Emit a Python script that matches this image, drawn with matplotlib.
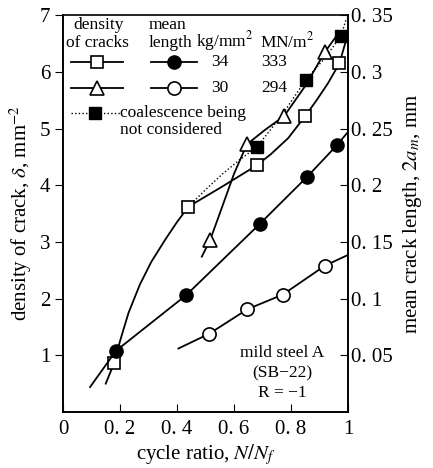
import numpy as np
import matplotlib
matplotlib.use("Agg")
import matplotlib.pyplot as plt

plt.rcParams["font.family"] = ["Liberation Serif", "DejaVu Serif"]
plt.rcParams["mathtext.fontset"] = "stix"

# density of cracks (left axis, mm^-2)
sq_x = [0.18, 0.44, 0.68, 0.85, 0.97]          # 34 kg/mm2
sq_y = [0.87, 3.62, 4.35, 5.22, 6.15]
tri_x = [0.516, 0.645, 0.776, 0.919]           # 30 kg/mm2
tri_y = [3.03, 4.72, 5.22, 6.35]
fsq_x = [0.68, 0.852, 0.975]                   # coalescence not considered
fsq_y = [4.67, 5.86, 6.63]

# mean crack length (right axis, mm)
fc_x = [0.186, 0.432, 0.691, 0.857, 0.962]     # 34 kg/mm2
fc_y = [0.054, 0.103, 0.166, 0.2075, 0.2355]
oc_x = [0.513, 0.647, 0.771, 0.919]            # 30 kg/mm2
oc_y = [0.069, 0.0906, 0.1035, 0.129]

# hand-drawn trend curves
sq_cx = [0.15, 0.18, 0.2, 0.23, 0.27, 0.31, 0.36, 0.4, 0.44, 0.56, 0.68,
         0.73, 0.79, 0.85, 0.89, 0.93, 0.97, 0.99]
sq_cy = [0.5, 0.87, 1.25, 1.75, 2.25, 2.65, 3.05, 3.35, 3.62, 3.98, 4.35,
         4.55, 4.83, 5.22, 5.5, 5.8, 6.15, 6.5]
tri_cx = [0.487, 0.516, 0.55, 0.6, 0.645, 0.71, 0.776, 0.85, 0.919, 0.955]
tri_cy = [2.74, 3.03, 3.5, 4.2, 4.72, 4.98, 5.22, 5.75, 6.35, 6.6]
fsq_cx = [0.44, 0.5, 0.56, 0.62, 0.68, 0.77, 0.852, 0.92, 0.975, 0.995]
fsq_cy = [3.62, 3.92, 4.2, 4.45, 4.67, 5.25, 5.86, 6.25, 6.63, 6.95]
fc_cx = [0.095, 0.186, 0.432, 0.691, 0.857, 0.962, 1.0]
fc_cy = [0.022, 0.054, 0.103, 0.166, 0.2075, 0.2355, 0.247]
oc_cx = [0.405, 0.513, 0.647, 0.771, 0.919, 1.0]
oc_cy = [0.056, 0.069, 0.0906, 0.1035, 0.129, 0.1385]

xticks = [0, 0.2, 0.4, 0.6, 0.8, 1]
xlabels = ["0", "0. 2", "0. 4", "0. 6", "0. 8", "1"]
lticks = [1, 2, 3, 4, 5, 6, 7]
rticks = [0.05, 0.1, 0.15, 0.2, 0.25, 0.3, 0.35]
rlabels = ["0. 05", "0. 1", "0. 15", "0. 2", "0. 25", "0. 3", "0. 35"]

fig = plt.figure(figsize=(4.33, 4.68), dpi=100)
ax = fig.add_axes([0.1455, 0.1197, 0.6582, 0.848])
ax2 = ax.twinx()

lw = 1.3
ms = 9
dot = (0, (1, 1.6))
ax.plot(sq_cx, sq_cy, "-", color="black", lw=lw)
ax.plot(tri_cx, tri_cy, "-", color="black", lw=lw)
ax.plot(fsq_cx, fsq_cy, linestyle=dot, color="black", lw=1.0)
ax.plot(sq_x, sq_y, "s", mfc="white", mec="black", ms=ms, mew=1.2)
ax.plot(tri_x, tri_y, "^", mfc="white", mec="black", ms=ms + 1, mew=1.2)
ax.plot(fsq_x, fsq_y, "s", mfc="black", mec="black", ms=ms)

ax2.plot(fc_cx, fc_cy, "-", color="black", lw=lw)
ax2.plot(oc_cx, oc_cy, "-", color="black", lw=lw)
ax2.plot(fc_x, fc_y, "o", mfc="black", mec="black", ms=ms + 0.5)
ax2.plot(oc_x, oc_y, "o", mfc="white", mec="black", ms=ms + 0.5, mew=1.2)

ax.set_xlim(0, 1)
ax.set_ylim(0, 7)
ax2.set_ylim(0, 0.35)
for a in (ax, ax2):
    for s in a.spines.values():
        s.set_linewidth(1.2)
ax2.spines["top"].set_visible(False)

ax.set_xticks(xticks)
ax.set_xticklabels(xlabels, fontsize=15)
ax.set_yticks(lticks)
ax.set_yticklabels([str(v) for v in lticks], fontsize=15)
ax.tick_params(axis="x", direction="in", length=6, pad=6)
ax.tick_params(axis="y", direction="out", length=6, pad=3)
ax2.set_yticks(rticks)
ax2.set_yticklabels(rlabels, fontsize=15)
ax2.tick_params(axis="y", direction="in", length=6, pad=2)

ax.set_xlabel(r"cycle ratio, $N/N_f$", fontsize=15, labelpad=2)
ax.set_ylabel(r"density of crack, $\delta$, mm$^{-2}$", fontsize=15, labelpad=4)
ax2.set_ylabel(r"mean crack length, $2a_m$, mm", fontsize=15, labelpad=6)

# legend block drawn by hand
fs = 12.5
t = ax.transAxes
ax.text(0.035, 0.975, "density", transform=t, fontsize=fs, va="center")
ax.text(0.012, 0.93, "of cracks", transform=t, fontsize=fs, va="center")
ax.text(0.3, 0.975, "mean", transform=t, fontsize=fs, va="center")
ax.text(0.3, 0.93, "length", transform=t, fontsize=fs, va="center")
ax.text(0.468, 0.935, "kg/mm$^2$", transform=t, fontsize=fs, va="center")
ax.text(0.69, 0.935, "MN/m$^2$", transform=t, fontsize=fs, va="center")

r1, r2, r3 = 0.882, 0.816, 0.753
ax.plot([0.028, 0.21], [r1, r1], "-", color="black", lw=lw, transform=t)
ax.plot([0.119], [r1], "s", mfc="white", mec="black", ms=ms, mew=1.2, transform=t)
ax.plot([0.31, 0.47], [r1, r1], "-", color="black", lw=lw, transform=t)
ax.plot([0.39], [r1], "o", mfc="black", mec="black", ms=ms + 0.5, transform=t)
ax.text(0.55, r1, "34", transform=t, fontsize=fs, va="center", ha="center")
ax.text(0.74, r1, "333", transform=t, fontsize=fs, va="center", ha="center")

ax.plot([0.028, 0.21], [r2, r2], "-", color="black", lw=lw, transform=t)
ax.plot([0.119], [r2], "^", mfc="white", mec="black", ms=ms + 1, mew=1.2, transform=t)
ax.plot([0.31, 0.47], [r2, r2], "-", color="black", lw=lw, transform=t)
ax.plot([0.39], [r2], "o", mfc="white", mec="black", ms=ms + 0.5, mew=1.2, transform=t)
ax.text(0.55, r2, "30", transform=t, fontsize=fs, va="center", ha="center")
ax.text(0.74, r2, "294", transform=t, fontsize=fs, va="center", ha="center")

ax.plot([0.028, 0.2], [r3, r3], linestyle=dot, color="black", lw=1.0, transform=t)
ax.plot([0.112], [r3], "s", mfc="black", mec="black", ms=ms, transform=t)
ax.text(0.2, r3, "coalescence being", transform=t, fontsize=fs, va="center")
ax.text(0.2, r3 - 0.042, "not considered", transform=t, fontsize=fs, va="center")

ax.text(0.77, 0.098, "mild steel A\n(SB\u221222)\nR = \u22121", transform=t,
        fontsize=12.5, ha="center", va="center", linespacing=1.35)

fig.savefig("out.png", dpi=100)
